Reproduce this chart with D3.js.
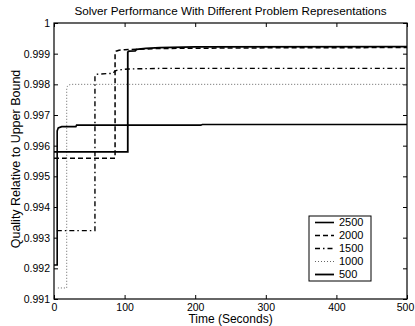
<!DOCTYPE html>
<html>
<head>
<meta charset="utf-8">
<script src="https://cdn.jsdelivr.net/npm/d3@7"></script>
<style>
  body { margin: 0; background: #fff; }
  svg text { font-family: "Liberation Sans", Arial, sans-serif; }
</style>
</head>
<body>
<div id="chart"></div>
<script>
// series (time in seconds, quality)
var names = ["2500", "2000", "1500", "1000", "500"];

var t2500 = [0, 4.5, 4.5, 6, 11, 31, 32, 208, 210, 500];
var q2500 = [0.99211, 0.99211, 0.99648, 0.99658, 0.99662, 0.99662, 0.99667, 0.99667, 0.99669, 0.99669];

var t2000 = [0, 86.5, 86.5, 88, 92, 100, 150, 300, 500];
var q2000 = [0.99559, 0.99559, 0.99900, 0.99908, 0.99911, 0.99913, 0.99917, 0.99919, 0.99920];

var t1500 = [4, 58, 58, 60, 84, 86, 91, 105, 150, 500];
var q1500 = [0.99323, 0.99323, 0.99828, 0.99833, 0.99836, 0.99843, 0.99847, 0.99850, 0.99852, 0.99852];

var t1000 = [5.5, 18, 18, 19, 21, 25, 500];
var q1000 = [0.99136, 0.99136, 0.99785, 0.99794, 0.99798, 0.99800, 0.99800];

var t500 = [0, 104.5, 104.5, 106, 115, 117, 130, 150, 200, 500];
var q500 = [0.99580, 0.99580, 0.99905, 0.99908, 0.99909, 0.99914, 0.99917, 0.99920, 0.99922, 0.99923];

var xTicks = [0, 100, 200, 300, 400, 500];
var yTicks = [0.991, 0.992, 0.993, 0.994, 0.995, 0.996, 0.997, 0.998, 0.999, 1];

var width = 415, height = 326;
var margin = {top: 23, right: 8, bottom: 27, left: 54};
var w = width - margin.left - margin.right;
var h = height - margin.top - margin.bottom;

var styles = {
  "2500": {dash: null, color: "#000", sw: 1.6},
  "2000": {dash: "5,3", color: "#000", sw: 1.5},
  "1500": {dash: "5,3,1.5,3", color: "#000", sw: 1.4},
  "1000": {dash: "1,2", color: "#666", sw: 1},
  "500":  {dash: null, color: "#000", sw: 1.8}
};

var series = [
  {name: "2500", t: t2500, q: q2500},
  {name: "2000", t: t2000, q: q2000},
  {name: "1500", t: t1500, q: q1500},
  {name: "1000", t: t1000, q: q1000},
  {name: "500",  t: t500,  q: q500}
];

var svg = d3.select("#chart").append("svg")
  .attr("width", width)
  .attr("height", height);

var g = svg.append("g")
  .attr("transform", "translate(" + margin.left + "," + margin.top + ")");

var x = d3.scaleLinear().domain([0, 500]).range([0, w]);
var y = d3.scaleLinear().domain([0.991, 1]).range([h, 0]);

// axes with inward ticks on all four sides
var yAxis = g.append("g")
  .call(d3.axisLeft(y).tickValues(yTicks).tickSizeInner(-4).tickSizeOuter(0).tickPadding(4)
    .tickFormat(function(d) { return d === 1 ? "1" : d3.format(".3f")(d); }));
var xAxis = g.append("g")
  .attr("transform", "translate(0," + h + ")")
  .call(d3.axisBottom(x).tickValues(xTicks).tickSizeInner(-4).tickSizeOuter(0).tickPadding(5));
var topAxis = g.append("g")
  .call(d3.axisTop(x).tickValues(xTicks).tickSizeInner(-4).tickSizeOuter(0).tickFormat(""));
var rightAxis = g.append("g")
  .attr("transform", "translate(" + w + ",0)")
  .call(d3.axisRight(y).tickValues(yTicks).tickSizeInner(-4).tickSizeOuter(0).tickFormat(""));

[yAxis, xAxis, topAxis, rightAxis].forEach(function(a) {
  a.select(".domain").remove();
  a.selectAll("text").attr("font-size", 10.5).attr("fill", "#000")
    .attr("font-family", "Liberation Sans, Arial, sans-serif");
  a.selectAll("line").attr("stroke", "#000");
});

// keep the last x label inside the window
xAxis.selectAll("text").filter(function(d) { return d === 500; }).attr("dx", "-2");

var line = d3.line()
  .x(function(d) { return x(d[0]); })
  .y(function(d) { return y(d[1]); });

series.forEach(function(s) {
  var pts = s.t.map(function(t, i) { return [t, s.q[i]]; });
  var st = styles[s.name];
  g.append("path")
    .datum(pts)
    .attr("fill", "none")
    .attr("stroke", st.color)
    .attr("stroke-width", st.sw)
    .attr("stroke-dasharray", st.dash)
    .attr("d", line);
});

// frame
g.append("rect")
  .attr("width", w)
  .attr("height", h)
  .attr("fill", "none")
  .attr("stroke", "#000")
  .attr("stroke-width", 1.2);

// title and labels
svg.append("text")
  .attr("x", margin.left + w / 2)
  .attr("y", 15)
  .attr("text-anchor", "middle")
  .attr("font-size", 11.7)
  .text("Solver Performance With Different Problem Representations");

svg.append("text")
  .attr("x", margin.left + w / 2)
  .attr("y", 323)
  .attr("text-anchor", "middle")
  .attr("font-size", 12)
  .text("Time (Seconds)");

svg.append("text")
  .attr("transform", "translate(19.5," + (margin.top + h / 2 - 2) + ") rotate(-90)")
  .attr("text-anchor", "middle")
  .attr("font-size", 12.5)
  .text("Quality Relative to Upper Bound");

// legend
var legend = g.append("g")
  .attr("transform", "translate(" + (309 - margin.left) + "," + (216 - margin.top) + ")");

legend.append("rect")
  .attr("width", 62)
  .attr("height", 65)
  .attr("fill", "#fff")
  .attr("stroke", "#000")
  .attr("stroke-width", 1);

var item = legend.selectAll(".legend")
  .data(names)
  .enter().append("g")
  .attr("class", "legend")
  .attr("transform", function(d, i) { return "translate(0," + (6.5 + i * 13) + ")"; });

item.append("line")
  .attr("x1", 6)
  .attr("x2", 25)
  .attr("stroke", function(d) { return styles[d].color; })
  .attr("stroke-width", function(d) { return styles[d].sw; })
  .attr("stroke-dasharray", function(d) { return styles[d].dash; });

item.append("text")
  .attr("x", 30)
  .attr("dy", ".35em")
  .attr("font-size", 11)
  .text(function(d) { return d; });
</script>
</body>
</html>
